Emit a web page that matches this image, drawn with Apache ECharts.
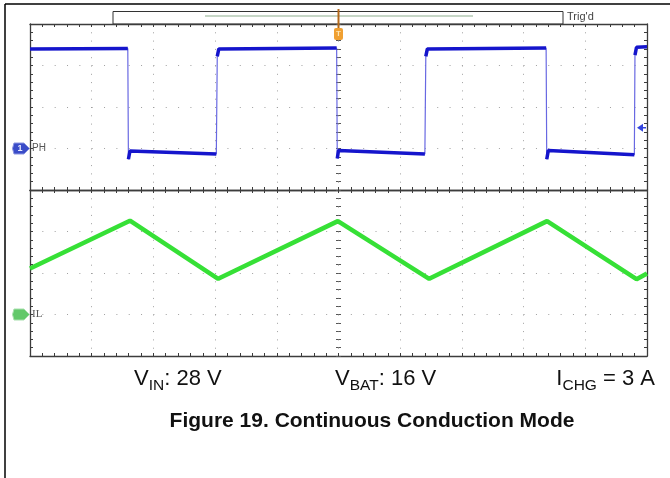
<!DOCTYPE html>
<html><head><meta charset="utf-8">
<script src="https://cdn.jsdelivr.net/npm/echarts/dist/echarts.min.js"></script>
<style>html,body{margin:0;padding:0;background:#fff}#c{width:670px;height:478px}</style>
</head><body><div id="c"></div>
<script>
// Horizontal axis: time in screen divisions (10 div). Vertical: divisions relative to each channel's ground marker.
const phTime = [0, 1.585, 1.595, 1.62, 3.02, 3.035, 3.06, 4.97, 4.98, 5.00, 6.40, 6.415, 6.44, 8.365, 8.375, 8.40, 9.795, 9.805, 9.83, 10];
const phDiv  = [2.40, 2.41, -0.26, -0.06, -0.13, 2.22, 2.40, 2.42, -0.24, -0.05, -0.13, 2.22, 2.40, 2.42, -0.26, -0.05, -0.15, 2.25, 2.44, 2.45];
const ilTime = [0, 1.62, 3.05, 4.99, 6.47, 8.38, 9.83, 10];
const ilDiv  = [1.11, 2.26, 0.86, 2.25, 0.86, 2.25, 0.85, 0.99];
const trigTime = 5, trigLevelDiv = 0.5;
const conditionLabels = [
  '{m|V}{s|IN}{m|: 28 V}',
  '{m|V}{s|BAT}{m|: 16 V}',
  '{m|I}{s|CHG}{m| = 3 A}'
];
const captionText = 'Figure 19. Continuous Conduction Mode';
const ch1Name = 'PH', ch2Name = 'IL';

const axisCol = '#3c3c3c', dotCol = '#a0a0a0';
const FONT = '"Liberation Sans", Arial, sans-serif';

function xAx(gridIndex, position, split) {
  return {type:'value', gridIndex, position, min:0, max:10, interval:1,
    axisLine:{show:true, onZero:false, lineStyle:{color:axisCol, width:1.3}},
    axisTick:{show:true, inside:true, length:3, lineStyle:{color:axisCol}},
    minorTick:{show:true, splitNumber:5, length:3, lineStyle:{color:axisCol}},
    axisLabel:{show:false},
    splitLine:{show:split, lineStyle:{color:dotCol, type:[1,7.3], width:1}}
  };
}
function yAx(gridIndex, position, opt) {
  return Object.assign({type:'value', gridIndex, position, min:-1, max:3, interval:1,
    axisLine:{show:true, onZero:false, lineStyle:{color:axisCol, width:1.3}},
    axisTick:{show:true, inside:true, length:3, lineStyle:{color:axisCol}},
    minorTick:{show:true, splitNumber:5, length:3, lineStyle:{color:axisCol}},
    axisLabel:{show:false},
    splitLine:{show:false}
  }, opt || {});
}
function centerAxes(gridIndex) {
  const base = {offset:-308.5, axisLine:{show:false}};
  const tk = (inside) => ({axisTick:{show:true, inside, length:2.5, lineStyle:{color:'#555'}},
                           minorTick:{show:true, splitNumber:5, length:2.5, lineStyle:{color:'#555'}}});
  return [
    yAx(gridIndex, 'left', Object.assign({}, base, tk(true))),
    yAx(gridIndex, 'left', Object.assign({}, base, tk(false)))
  ];
}

const phPts = phTime.map((t, i) => [t, phDiv[i]]);
const phLevels = [];
phPts.forEach((p, i) => {
  if (i > 0 && Math.abs(p[1] - phPts[i-1][1]) > 1) phLevels.push([p[0], null]);
  phLevels.push(p);
});
const ilPts = ilTime.map((t, i) => [t, ilDiv[i]]);

const chart = echarts.init(document.getElementById('c'), null, {renderer:'canvas'});
const gridBase = {left:30, width:617, height:166, containLabel:false, outerBoundsMode:'none', show:false};
const richStyle = {
  m:{fontSize:22, fontFamily:FONT, fontWeight:'normal', color:'#111', lineHeight:24},
  s:{fontSize:15.5, fontFamily:FONT, fontWeight:'normal', color:'#111', lineHeight:10, height:10, verticalAlign:'bottom'}
};
const option = {
  animation:false,
  backgroundColor:'#fff',
  grid:[Object.assign({top:24}, gridBase), Object.assign({top:190}, gridBase)],
  xAxis:[xAx(0,'bottom',true), xAx(0,'top',false), xAx(1,'bottom',true), xAx(1,'top',false)],
  yAxis:[
    yAx(0,'left',{splitLine:{show:true, lineStyle:{color:dotCol, type:[1,11.34], width:1}}}), yAx(0,'right'), ...centerAxes(0),
    yAx(1,'left',{splitLine:{show:true, lineStyle:{color:dotCol, type:[1,11.34], width:1}}}), yAx(1,'right'), ...centerAxes(1)
  ],
  title: conditionLabels.map((txt, i) => Object.assign({
    text: txt, padding:0, top:367,
    textStyle:{fontWeight:'normal', fontSize:22, fontFamily:FONT, color:'#111', rich:richStyle}
  }, i === 0 ? {left:134} : i === 1 ? {left:335} : {right:15})),
  series:[
    {type:'line', xAxisIndex:0, yAxisIndex:0, data:phPts, symbol:'none', lineStyle:{color:'#6868e2', width:1.2}, z:3},
    {type:'line', xAxisIndex:0, yAxisIndex:0, data:phLevels, symbol:'none', connectNulls:false, lineStyle:{color:'#1515cc', width:3.5}, z:4},
    {type:'line', xAxisIndex:2, yAxisIndex:4, data:ilPts, symbol:'none', lineStyle:{color:'#36e036', width:4.5}, z:4}
  ]
};
chart.setOption(option);

const g1 = chart.convertToPixel({gridIndex:0}, [0, 0]);
const g2 = chart.convertToPixel({gridIndex:1}, [0, 0]);
const tr = chart.convertToPixel({gridIndex:0}, [trigTime, 3]);
const tl = chart.convertToPixel({gridIndex:0}, [10, trigLevelDiv]);
function chanMarker(p, fill, edge, num, name, nameFont) {
  const x = p[0], y = p[1];
  const els = [
    {type:'polygon', z:10, shape:{points:[[x-16,y-5.5],[x-6,y-5.5],[x-0.5,y],[x-6,y+5.5],[x-16,y+5.5],[x-17.5,y]]}, style:{fill, stroke:edge, lineWidth:1}},
    {type:'text', z:11, x:x+2, y:y, style:{text:name, font:nameFont, fill:'#555', textVerticalAlign:'middle', verticalAlign:'middle'}}
  ];
  if (num) els.push({type:'text', z:11, x:x-10, y:y, style:{text:num, font:'bold 9px '+FONT, fill:'#e8ecff', textAlign:'center', align:'center', textVerticalAlign:'middle', verticalAlign:'middle'}});
  return els;
}
chart.setOption({graphic:[
  {type:'line', shape:{x1:5, y1:4, x2:670, y2:4}, style:{stroke:'#000', lineWidth:1.5}},
  {type:'line', shape:{x1:5, y1:4, x2:5, y2:478}, style:{stroke:'#000', lineWidth:1.5}},
  {type:'rect', shape:{x:113, y:11.5, width:450, height:12.5}, style:{fill:'#fff', stroke:'#333', lineWidth:1}},
  {type:'line', shape:{x1:205, y1:16, x2:473, y2:16}, style:{stroke:'#c6d6c6', lineWidth:2}},
  {type:'text', x:567, y:17, style:{text:"Trig'd", font:'11px '+FONT, fill:'#444', textVerticalAlign:'middle', verticalAlign:'middle'}},
  {type:'line', z:12, shape:{x1:tr[0], y1:9, x2:tr[0], y2:tr[1]+4}, style:{stroke:'#b46a1c', lineWidth:2}},
  {type:'rect', z:12, shape:{x:tr[0]-4.5, y:tr[1]+4, width:9, height:12, r:2}, style:{fill:'#f0a032'}},
  {type:'text', z:13, x:tr[0], y:tr[1]+10, style:{text:'T', font:'bold 8px '+FONT, fill:'#fde3b0', textAlign:'center', align:'center', textVerticalAlign:'middle', verticalAlign:'middle'}},
  {type:'polygon', z:12, shape:{points:[[tl[0]-10,tl[1]],[tl[0]-4,tl[1]-4],[tl[0]-4,tl[1]+4]]}, style:{fill:'#3344dd'}},
  {type:'line', z:12, shape:{x1:tl[0]-5, y1:tl[1], x2:tl[0]-1, y2:tl[1]}, style:{stroke:'#3344dd', lineWidth:1.5}},
  ...chanMarker(g1, '#3a4cc8', '#8a94e0', '1', ch1Name, '10px '+FONT),
  ...chanMarker(g2, '#62c86a', '#a8e0ae', '', ch2Name, '11px "Liberation Serif", serif'),
  {type:'text', x:372, y:421, style:{text:captionText, font:'bold 21px '+FONT, fill:'#111', textAlign:'center', align:'center', textVerticalAlign:'middle', verticalAlign:'middle'}}
]});
</script></body></html>
